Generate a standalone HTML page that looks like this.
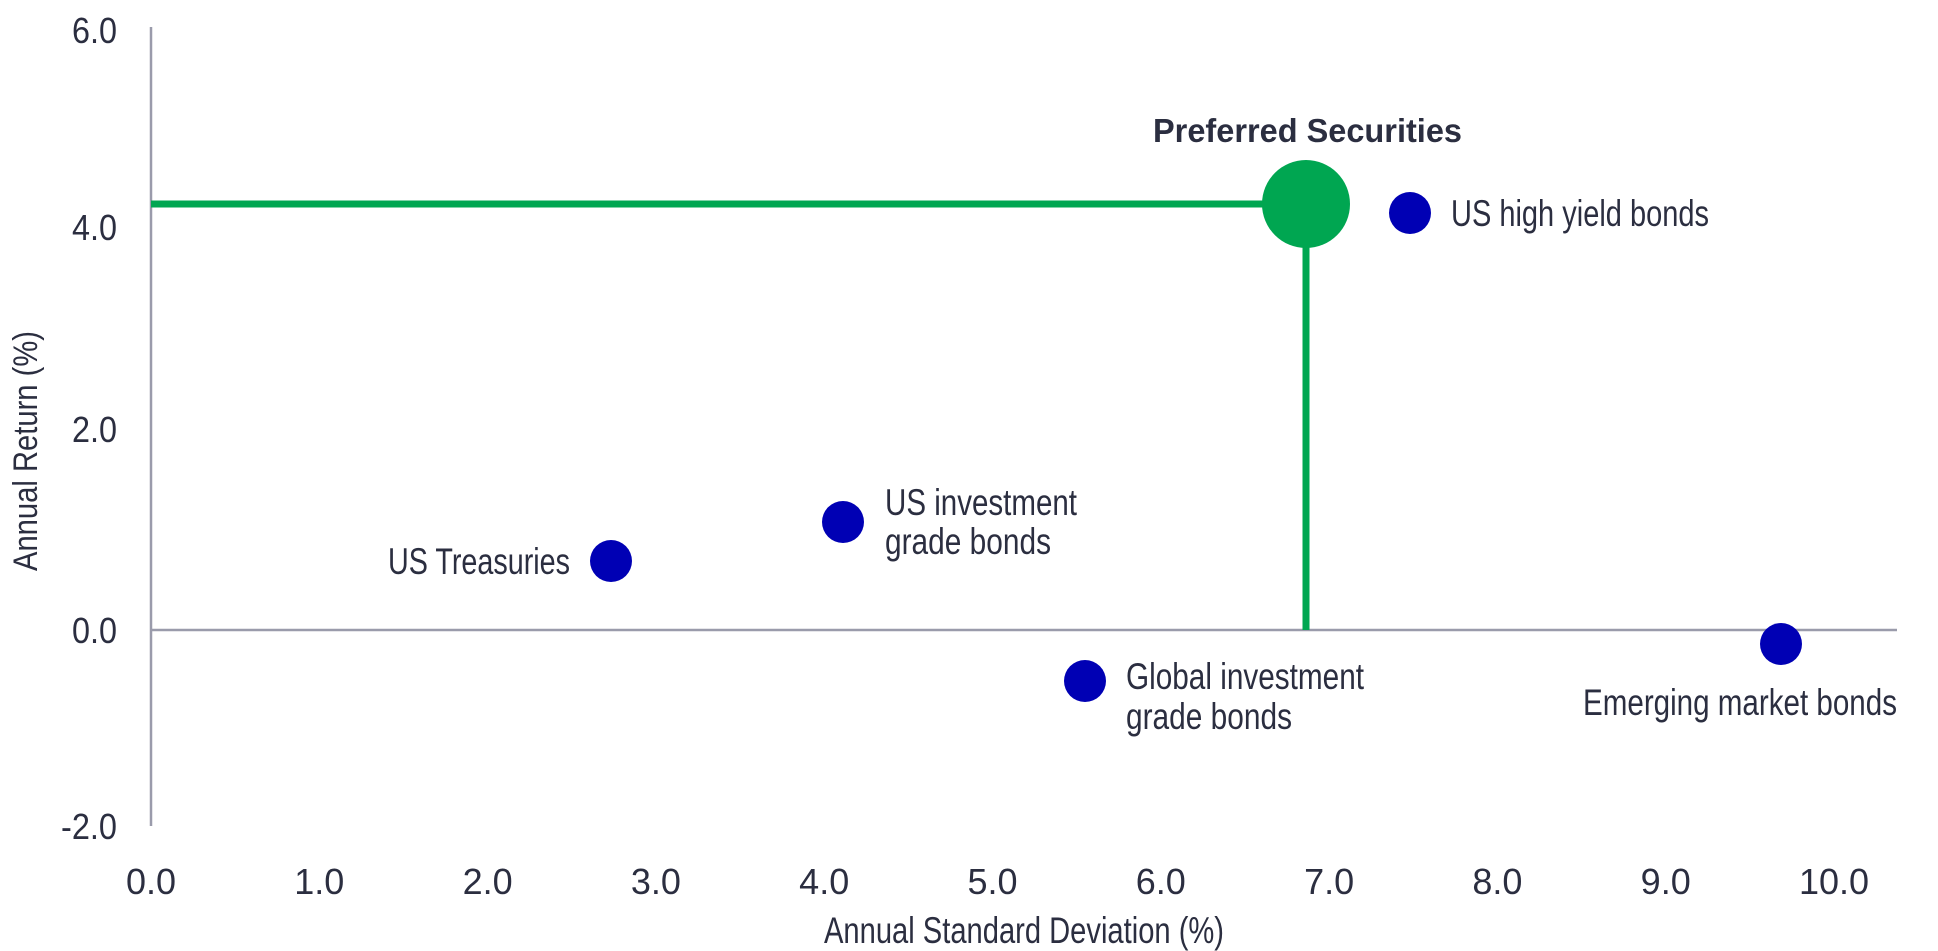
<!DOCTYPE html>
<html><head><meta charset="utf-8"><style>
html,body{margin:0;padding:0;background:#fff;width:1938px;height:951px;overflow:hidden}
svg text{font-family:"Liberation Sans",sans-serif;fill:#2b2e40}
</style></head><body>
<svg width="1938" height="951" viewBox="0 0 1938 951" xmlns="http://www.w3.org/2000/svg">
<line x1="151" y1="27" x2="151" y2="826" stroke="#9a9bab" stroke-width="2.5"/>
<line x1="151" y1="630" x2="1897" y2="630" stroke="#9a9bab" stroke-width="2.5"/>
<g font-size="36" text-anchor="end">
<text x="117" y="43" textLength="45" lengthAdjust="spacingAndGlyphs">6.0</text>
<text x="117" y="240" textLength="45" lengthAdjust="spacingAndGlyphs">4.0</text>
<text x="117" y="442" textLength="45" lengthAdjust="spacingAndGlyphs">2.0</text>
<text x="117" y="643" textLength="45" lengthAdjust="spacingAndGlyphs">0.0</text>
<text x="117" y="839" textLength="56" lengthAdjust="spacingAndGlyphs">-2.0</text>
</g>
<g font-size="36" text-anchor="middle">
<text x="151" y="894">0.0</text>
<text x="319.3" y="894">1.0</text>
<text x="487.6" y="894">2.0</text>
<text x="655.9" y="894">3.0</text>
<text x="824.2" y="894">4.0</text>
<text x="992.5" y="894">5.0</text>
<text x="1160.8" y="894">6.0</text>
<text x="1329.1" y="894">7.0</text>
<text x="1497.4" y="894">8.0</text>
<text x="1665.7" y="894">9.0</text>
<text x="1834" y="894">10.0</text>
</g>
<text x="824" y="943" font-size="37" textLength="400" lengthAdjust="spacingAndGlyphs">Annual Standard Deviation (%)</text>
<text transform="translate(37,571) rotate(-90)" font-size="34" textLength="240" lengthAdjust="spacingAndGlyphs">Annual Return (%)</text>
<line x1="151" y1="204" x2="1306" y2="204" stroke="#00a651" stroke-width="7"/>
<line x1="1306" y1="204" x2="1306" y2="630" stroke="#00a651" stroke-width="7"/>
<circle cx="1306" cy="204" r="44" fill="#00a651"/>
<g fill="#0000b4">
<circle cx="1410" cy="213" r="21"/>
<circle cx="611" cy="561" r="21"/>
<circle cx="843" cy="522" r="21"/>
<circle cx="1085" cy="681" r="21"/>
<circle cx="1781" cy="644" r="21"/>
</g>
<text x="1153" y="142" font-size="33" font-weight="bold" textLength="309" lengthAdjust="spacingAndGlyphs">Preferred Securities</text>
<g font-size="37">
<text x="1451" y="226" textLength="258" lengthAdjust="spacingAndGlyphs">US high yield bonds</text>
<text x="388" y="574" textLength="182" lengthAdjust="spacingAndGlyphs">US Treasuries</text>
<text x="885" y="515" textLength="192" lengthAdjust="spacingAndGlyphs">US investment</text>
<text x="885" y="554" textLength="166" lengthAdjust="spacingAndGlyphs">grade bonds</text>
<text x="1126" y="689" textLength="238" lengthAdjust="spacingAndGlyphs">Global investment</text>
<text x="1126" y="729" textLength="166" lengthAdjust="spacingAndGlyphs">grade bonds</text>
<text x="1583" y="715" textLength="314" lengthAdjust="spacingAndGlyphs">Emerging market bonds</text>
</g>
</svg>
</body></html>
